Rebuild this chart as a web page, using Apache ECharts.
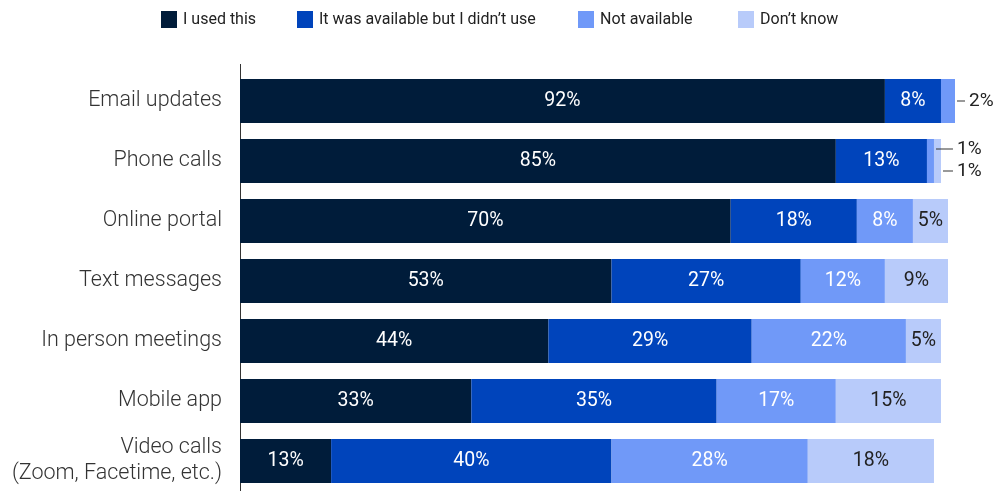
<!DOCTYPE html>
<html>
<head>
<meta charset="utf-8">
<script src="https://cdn.jsdelivr.net/npm/echarts@6/dist/echarts.min.js"></script>
<style>
  html, body { margin: 0; padding: 0; background: #ffffff; }
  #chart { width: 995px; height: 491px; }
</style>
</head>
<body>
<div id="chart"></div>
<script>
// Survey categories, top to bottom
const categories = [
  'Email updates',
  'Phone calls',
  'Online portal',
  'Text messages',
  'In person meetings',
  'Mobile app',
  'Video calls\n(Zoom, Facetime, etc.)'
];

// Share of respondents per answer (%)
const usedThis      = [92, 85, 70, 53, 44, 33, 13];
const availNotUsed  = [8, 13, 18, 27, 29, 35, 40];
const notAvailable  = [2, 1, 8, 12, 22, 17, 28];
const dontKnow      = [0, 1, 5, 9, 5, 15, 18];

const seriesNames = [
  'I used this',
  'It was available but I didn\u2019t use',
  'Not available',
  'Don\u2019t know'
];
const seriesValues = [usedThis, availNotUsed, notAvailable, dontKnow];
const colors = ['#001C3A', '#0044BB', '#7099F8', '#B8CBFA'];
const labelColors = ['#ffffff', '#ffffff', '#ffffff', '#222222'];

const FONT = 'Roboto, "Noto Sans", sans-serif';
const SMALL = 2; // values at or below this get an outside label with a leader line

function outsideLabel(text, lineWidth, dy) {
  return {
    show: true,
    position: 'right',
    distance: 2,
    offset: [0, dy],
    formatter: '{ln|}{t|' + text + '}',
    rich: {
      ln: { width: lineWidth, height: 1, backgroundColor: '#333333' },
      t: { fontSize: 19, color: '#222222', fontFamily: FONT, padding: [0, 0, 0, 4] }
    }
  };
}

const series = seriesValues.map((vals, si) => ({
  name: seriesNames[si],
  type: 'bar',
  stack: 'total',
  barWidth: 44,
  itemStyle: { color: colors[si] },
  label: {
    show: true,
    position: 'inside',
    color: labelColors[si],
    fontSize: 19.5,
    fontFamily: FONT,
    formatter: p => (p.value > 0 ? p.value + '%' : '')
  },
  data: vals.map((v, ci) => {
    if (v > 0 && v <= SMALL) {
      // stacked small segments: the inner one's label goes up, the outer one's goes down
      const next = seriesValues[si + 1] ? seriesValues[si + 1][ci] : 0;
      const prev = si > 0 ? seriesValues[si - 1][ci] : 99;
      let lbl;
      if (next > 0 && next <= SMALL) lbl = outsideLabel(v + '%', 17, -12);
      else if (prev > 0 && prev <= SMALL) lbl = outsideLabel(v + '%', 10, 10);
      else lbl = outsideLabel(v + '%', 8, 0);
      return { value: v, label: lbl };
    }
    return v;
  })
}));

const legendLefts = [156, 292, 573, 733];
const legends = seriesNames.map((n, i) => ({
  data: [n],
  left: legendLefts[i],
  top: 6,
  icon: 'rect',
  itemWidth: 16,
  itemHeight: 17,
  itemGap: 0,
  selectedMode: false,
  textStyle: { fontSize: 16, color: '#222222', fontFamily: FONT, padding: [0, 0, 0, 1] }
}));

const chart = echarts.init(document.getElementById('chart'), null, { renderer: 'canvas' });
chart.setOption({
  animation: false,
  color: colors,
  legend: legends,
  grid: { left: 240, right: 40, top: 71, bottom: 0, containLabel: false },
  xAxis: {
    type: 'value',
    min: 0,
    max: 102,
    show: false
  },
  yAxis: {
    type: 'category',
    inverse: true,
    data: categories,
    axisTick: { show: false },
    axisLine: { show: true, lineStyle: { color: '#333333', width: 1 } },
    axisLabel: {
      margin: 18,
      fontSize: 21.5,
      fontWeight: 300,
      lineHeight: 26,
      color: '#333333',
      fontFamily: FONT
    }
  },
  graphic: [{
    type: 'line',
    shape: { x1: 240.5, y1: 64, x2: 240.5, y2: 72 },
    style: { stroke: '#333333', lineWidth: 1 }
  }],
  series: series
});
</script>
</body>
</html>
